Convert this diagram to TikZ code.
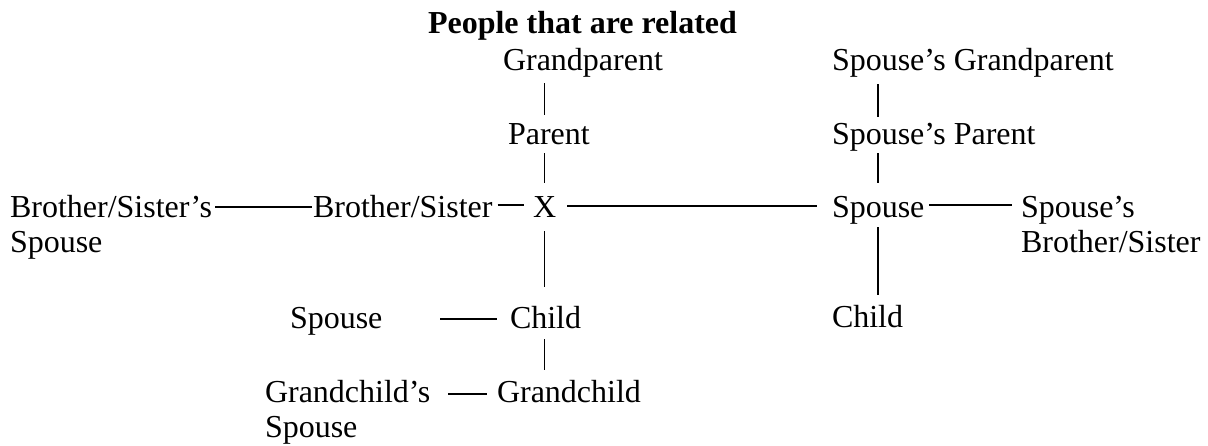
\documentclass[tikz,border=0pt]{standalone}
\usepackage{fontspec}
\setmainfont{Liberation Serif}
\begin{document}
\begin{tikzpicture}[x=1pt,y=-1pt,
  lbl/.style={anchor=base west,inner sep=0pt,outer sep=0pt,font=\fontsize{32pt}{35pt}\selectfont},
  ttl/.style={lbl,font=\fontsize{32pt}{35pt}\selectfont\bfseries},
  link/.style={line width=1.5pt,black}]
\useasboundingbox (0,0) rectangle (1208,445);
% texts
\node[ttl] (title) at (428,33) {People that are related};
\node[lbl] (gp) at (503,70) {Grandparent};
\node[lbl] (par) at (508,144) {Parent};
\node[lbl] (sgp) at (832,70) {Spouse’s Grandparent};
\node[lbl] (spar) at (832,144) {Spouse’s Parent};
\node[lbl] (bss) at (10,217) {Brother/Sister’s};
\node[lbl] (bss2) at (10,252) {Spouse};
\node[lbl] (bs) at (313,217) {Brother/Sister};
\node[lbl] (X) at (533,217) {X};
\node[lbl] (sp) at (832,217) {Spouse};
\node[lbl] (sbs) at (1021,217) {Spouse’s};
\node[lbl] (sbs2) at (1021,252) {Brother/Sister};
\node[lbl] (lsp) at (290,328) {Spouse};
\node[lbl] (child) at (510,328) {Child};
\node[lbl] (schild) at (832,327) {Child};
\node[lbl] (gcs) at (265,402) {Grandchild’s};
\node[lbl] (gcs2) at (265,437) {Spouse};
\node[lbl] (gc) at (497,402) {Grandchild};
% horizontal connectors
\draw[link] ([xshift=3pt,yshift=10pt]bss.base east) -- ([xshift=-1pt,yshift=10pt]bs.base west);
\draw[link] ([xshift=5pt,yshift=12pt]bs.base east) -- ([xshift=-9pt,yshift=12pt]X.base west);
\draw[link] ([xshift=11pt,yshift=11pt]X.base east) -- ([xshift=-15pt,yshift=11pt]sp.base west);
\draw[link] ([xshift=5pt,yshift=12pt]sp.base east) -- ([xshift=-9pt,yshift=12pt]sbs.base west);
\draw[link] ([xshift=58pt,yshift=9pt]lsp.base east) -- ([xshift=-13pt,yshift=9pt]child.base west);
\draw[link] ([xshift=18pt,yshift=8pt]gcs.base east) -- ([xshift=-10pt,yshift=8pt]gc.base west);
% vertical connectors, left column
\draw[link] ([yshift=-13pt]gp.base -| X.base) -- ([yshift=29pt]par.base -| X.base);
\draw[link] ([yshift=-9pt]par.base -| X.base) -- ([yshift=34pt]X.base);
\draw[link] ([yshift=-14pt]X.base) -- ([yshift=41pt]child.base -| X.base);
\draw[link] ([yshift=-11pt]child.base -| X.base) -- ([yshift=32pt]gc.base -| X.base);
% vertical connectors, right column
\draw[link] ([yshift=-14pt]sgp.base -| sp.base) -- ([yshift=27pt]spar.base -| sp.base);
\draw[link] ([yshift=-9pt]spar.base -| sp.base) -- ([yshift=34pt]sp.base);
\draw[link] ([yshift=-10pt]sp.base) -- ([yshift=32pt]schild.base -| sp.base);
\end{tikzpicture}
\end{document}
